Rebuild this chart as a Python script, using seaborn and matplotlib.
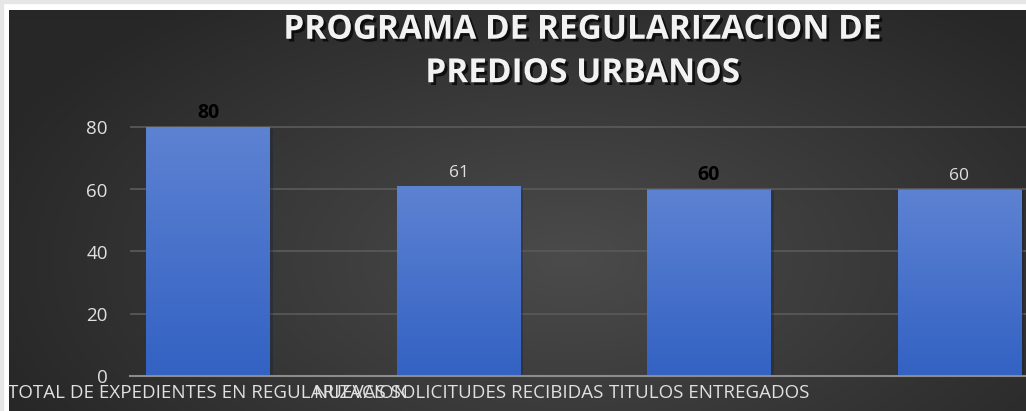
import matplotlib
matplotlib.use("Agg")
import matplotlib.pyplot as plt
import matplotlib.patheffects as pe
from matplotlib.patches import Rectangle
import numpy as np
import pandas as pd
import seaborn as sns

# --- DATOS ---
CATEGORIAS = [
    "TOTAL DE EXPEDIENTES EN REGULARIZACION",
    "NUEVAS SOLICITUDES RECIBIDAS",
    "TITULOS ENTREGADOS",
    " ",
]
VALORES = [80, 61, 60, 60]
ETIQUETA_NEGRITA = [True, False, True, False]
Y_TICKS = [0, 20, 40, 60, 80]
TITULO = "PROGRAMA DE REGULARIZACION DE\nPREDIOS URBANOS"

# --- CONFIGURACIÓN ---
W_PX, H_PX, DPI = 1026, 411, 100
FUENTE = "Open Sans"
COLOR_TEXTO = "#e0e0e0"
COLOR_GRID = "#585858"
COLOR_EJE = "#8c8c8c"
BAR_TOP = np.array([0x5d, 0x82, 0xd2]) / 255
BAR_BOT = np.array([0x33, 0x62, 0xc3]) / 255


def px_x(x):
    return x / W_PX


def px_y(y):
    return 1 - y / H_PX


sns.set_theme(style="dark")
plt.rcParams["font.family"] = [FUENTE, "DejaVu Sans"]

fig = plt.figure(figsize=(W_PX / DPI, H_PX / DPI), dpi=DPI, facecolor="white")

# borde claro de la captura
fig.patches.append(Rectangle((0, px_y(3)), 1, 3 / H_PX, transform=fig.transFigure,
                             color="#e6e6e6", zorder=0))
fig.patches.append(Rectangle((0, 0), 3 / W_PX, 1, transform=fig.transFigure,
                             color="#e6e6e6", zorder=0))

# fondo con degradado radial
bg = fig.add_axes([px_x(9), 0, 1 - px_x(9), px_y(10)])
bg.set_axis_off()
yy, xx = np.mgrid[0:401, 0:1017]
dist = np.sqrt(((xx - 560) / 620) ** 2 + ((yy - 250) / 330) ** 2)
dist = np.clip(dist, 0, 1)
shade = 0x4b / 255 * (1 - dist) + 0x27 / 255 * dist
bg.imshow(np.dstack([shade, shade, shade]), aspect="auto", interpolation="bilinear")

# ejes principales
y_top, y_bot = 112.0, 375.5
ax = fig.add_axes([px_x(130), px_y(y_bot), 1 - px_x(130), (y_bot - y_top) / H_PX])
ax.set_facecolor("none")

df = pd.DataFrame({"categoria": CATEGORIAS, "valor": VALORES})
sns.barplot(data=df, x="categoria", y="valor", color="#4472c4", width=0.495,
            saturation=1, linewidth=0, ax=ax, zorder=3)

ax.set_ylim(0, 80 * (y_bot - y_top) / (y_bot - 127.5))
ax.set_xlim((130 - 208) / 250.5, (1026 - 208) / 250.5)

# degradado en las barras
grad = np.linspace(0, 1, 256)[:, None, None]
grad_img = BAR_TOP * (1 - grad) + BAR_BOT * grad
for bar in ax.patches:
    bar.set_path_effects([pe.SimplePatchShadow(offset=(2, -1), alpha=0.35), pe.Normal()])
    x0, w, h = bar.get_x(), bar.get_width(), bar.get_height()
    im = ax.imshow(grad_img, extent=[x0, x0 + w, 0, h], aspect="auto", zorder=4)
    im.set_clip_path(bar)

# etiquetas de datos
for i, (v, negrita) in enumerate(zip(VALORES, ETIQUETA_NEGRITA)):
    if negrita:
        ax.annotate(str(v), (i, v), xytext=(0, 3.5), textcoords="offset points",
                    ha="center", va="bottom", fontsize=14, fontweight="bold",
                    color="black", zorder=6, annotation_clip=False)
    else:
        ax.annotate(str(v), (i, v), xytext=(0, 4), textcoords="offset points",
                    ha="center", va="bottom", fontsize=12.5, color=COLOR_TEXTO,
                    zorder=6, annotation_clip=False)

ax.set_yticks(Y_TICKS)
ax.set_yticklabels([str(t) for t in Y_TICKS])
ax.grid(axis="y", color=COLOR_GRID, linewidth=1.3, zorder=0)
ax.grid(axis="x", visible=False)
ax.tick_params(axis="y", length=0, pad=16, labelsize=13.5, labelcolor=COLOR_TEXTO)
ax.tick_params(axis="x", length=0, pad=6, labelsize=13.5, labelcolor=COLOR_TEXTO)
ax.set_xlabel("")
ax.set_ylabel("")
for lado in ["top", "right", "left"]:
    ax.spines[lado].set_visible(False)
ax.spines["bottom"].set_color(COLOR_EJE)
ax.spines["bottom"].set_linewidth(1.5)
ax.spines["bottom"].set_zorder(5)

# título con sombra
fig.text(px_x(583), px_y(52), TITULO, ha="center", va="center", fontsize=24,
         fontweight="bold", color="#f2f2f2", linespacing=1.42,
         path_effects=[pe.withSimplePatchShadow(offset=(2, -2), shadow_rgbFace="black",
                                                alpha=0.7)])

fig.savefig("out.png", dpi=DPI, facecolor=fig.get_facecolor())
